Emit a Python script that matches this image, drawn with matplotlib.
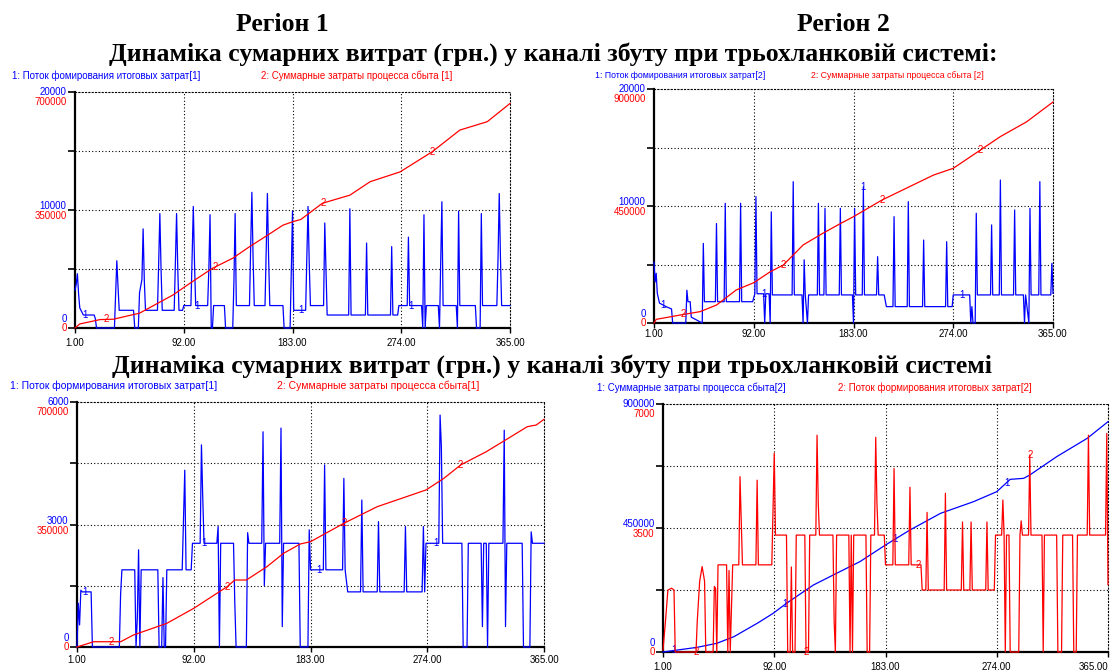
import numpy as np
import matplotlib

matplotlib.use("Agg")
import matplotlib.pyplot as plt

W, H = 1112, 671
BLUE = "#0000ff"
RED = "#ff0000"
INK = "black"
SERIF = "Liberation Serif"
SANS = "Liberation Sans"
DOTS = (0, (1, 2))

DAY_TICKS = [1, 92, 183, 274, 365]
DAY_LABELS = ["1.00", "92.00", "183.00", "274.00", "365.00"]

# ---- region 1, upper chart: flow (blue, 0..20000) and cumulative cost (red, 0..700000)
r1_flow = [(1, 3200), (2, 3700), (3, 4600), (4, 2900), (5, 1700), (8, 1100), (17, 1100),
           (18, 800), (19, 0), (34, 0), (35, 2900), (36, 5700), (37, 3500), (38, 1500),
           (50, 1500), (51, 0), (54, 0), (55, 3000), (57, 4100), (58, 8400), (59, 4000),
           (60, 1500), (70, 1500), (71, 5400), (72, 9700), (73, 5000), (74, 1500),
           (84, 1500), (85, 5500), (86, 9700), (87, 5000), (88, 1500), (91, 1500),
           (92, 1900), (98, 1900), (99, 6000), (100, 10300), (101, 5500), (102, 1900),
           (112, 1900), (113, 5000), (114, 9600), (115, 0), (116, 0), (117, 1900),
           (126, 1900), (127, 0), (133, 0), (134, 4000), (135, 9700), (136, 1900),
           (147, 1900), (148, 6900), (149, 11500), (150, 6000), (151, 1900), (160, 1900),
           (161, 6600), (162, 11400), (163, 6000), (164, 1900), (175, 1900), (176, 0),
           (181, 0), (182, 4900), (183, 9900), (184, 1500), (194, 1500), (195, 6000),
           (196, 10300), (197, 5500), (198, 1900), (209, 1900), (210, 8900), (211, 5000),
           (212, 1100), (230, 1100), (231, 10100), (232, 1100), (244, 1100), (245, 7200),
           (246, 1100), (265, 1100), (266, 6900), (267, 1100), (271, 1100), (272, 1900),
           (279, 1900), (280, 7700), (281, 1900), (291, 1900), (292, 0), (293, 9600),
           (294, 0), (295, 1900), (305, 1900), (306, 0), (307, 5500), (308, 10700),
           (309, 1900), (320, 1900), (321, 0), (322, 9900), (323, 1900), (336, 1900),
           (337, 0), (340, 0), (341, 9700), (342, 1900), (354, 1900), (355, 6000),
           (356, 11400), (357, 6000), (358, 1900), (365, 1900)]
r1_cost = [(1, 0), (5, 12000), (22, 25000), (33, 26000), (55, 44000), (83, 98000),
           (99, 137000), (116, 177000), (133, 207000), (147, 241000), (162, 275000),
           (175, 305000), (183, 315000), (190, 322000), (208, 370000), (231, 394000),
           (248, 434000), (273, 463000), (300, 523000), (323, 587000), (346, 612000),
           (365, 666000)]

# ---- region 2, upper chart: flow (blue, 0..20000) and cumulative cost (red, 0..900000)
r2_flow = [(1, 5200), (2, 3500), (3, 4250), (4, 2540), (6, 1700), (12, 1400), (17, 1200),
           (18, 0), (30, 0), (31, 2800), (32, 1820), (34, 1820), (35, 500), (45, 0),
           (46, 6800), (47, 1820), (57, 1820), (58, 8500), (59, 1820), (65, 1820),
           (66, 10230), (67, 1820), (79, 1820), (80, 10230), (81, 1820), (91, 1820),
           (93, 2500), (94, 10800), (95, 2500), (101, 2500), (102, 0), (103, 2500),
           (106, 2500), (107, 0), (108, 9500), (109, 2400), (127, 2400), (128, 12080),
           (129, 2400), (136, 2400), (137, 0), (138, 5400), (139, 2400), (141, 0),
           (142, 2400), (150, 2400), (151, 10230), (152, 2400), (156, 2400), (157, 9800),
           (158, 2400), (170, 2400), (171, 9800), (172, 2400), (182, 2400), (183, 0),
           (184, 9800), (185, 2400), (191, 2400), (192, 11650), (193, 2400), (204, 2400),
           (205, 5670), (206, 2400), (211, 2400), (213, 1400), (219, 1400), (220, 9090),
           (221, 1400), (232, 1400), (233, 10370), (234, 1400), (246, 1400), (247, 7090),
           (248, 1400), (267, 1400), (268, 6950), (269, 1400), (273, 1400), (274, 2400),
           (289, 2400), (290, 0), (291, 1400), (292, 0), (294, 0), (295, 9380), (296, 2400),
           (308, 2400), (309, 8380), (310, 2400), (316, 2400), (317, 12220), (318, 2400),
           (329, 2400), (330, 9660), (331, 2400), (338, 2400), (339, 0), (340, 2400),
           (343, 0), (344, 9800), (345, 2400), (352, 2400), (353, 12080), (354, 2400),
           (363, 2400), (364, 5100), (365, 2540)]
r2_cost = [(1, 0), (3, 14000), (25, 30800), (43, 43600), (58, 69000), (76, 127000),
           (92, 155000), (107, 197000), (119, 223000), (137, 300000), (155, 345000),
           (170, 380000), (183, 409000), (209, 473000), (231, 518000), (256, 569000),
           (274, 595000), (298, 663000), (317, 717000), (341, 774000), (365, 850000)]

# ---- region 1, lower chart: flow (blue, 0..6000) and cumulative cost (red, 0..700000)
r1b_flow = [(1, 0), (2, 1070), (3, 540), (4, 1390), (5, 1350), (12, 1350), (13, 0),
            (34, 0), (35, 1300), (36, 1890), (46, 1890), (47, 0), (48, 700), (49, 2380),
            (50, 0), (51, 1890), (64, 1890), (65, 0), (67, 0), (68, 1700), (69, 0),
            (70, 0), (71, 1890), (83, 1890), (84, 3110), (85, 4330), (86, 1890),
            (90, 1890), (91, 2540), (97, 2540), (98, 4950), (99, 3680), (100, 2540),
            (110, 2540), (111, 2950), (112, 0), (113, 2540), (123, 2540), (124, 1070),
            (125, 0), (133, 0), (134, 2800), (135, 2540), (145, 2540), (146, 5270),
            (147, 1500), (148, 2540), (159, 2540), (160, 5360), (161, 500), (162, 2540),
            (174, 2540), (175, 0), (181, 0), (182, 2870), (183, 1890), (193, 1890),
            (194, 4460), (195, 1890), (208, 1890), (209, 4130), (210, 1890), (212, 1350),
            (222, 1350), (223, 3600), (224, 1350), (235, 1350), (236, 3070), (237, 1350),
            (256, 1350), (257, 2950), (258, 1350), (270, 1350), (271, 2950), (272, 1350),
            (273, 2540), (283, 2540), (284, 5680), (285, 4900), (286, 2540), (301, 2540),
            (302, 0), (305, 0), (306, 2540), (316, 2540), (317, 500), (318, 2540),
            (320, 2540), (321, 0), (322, 2540), (333, 2540), (334, 5310), (335, 500),
            (336, 2540), (348, 2540), (349, 0), (354, 0), (355, 2820), (356, 2540),
            (365, 2540)]
r1b_cost = [(1, 0), (14, 15100), (35, 15100), (45, 34300), (71, 67600), (92, 110500),
            (118, 172300), (124, 191400), (133, 191400), (149, 229400), (162, 267700),
            (175, 294300), (183, 300900), (209, 353400), (235, 400900), (273, 448600),
            (287, 482000), (300, 520000), (320, 558000), (335, 591400), (352, 629500),
            (359, 634300), (365, 650600)]

# ---- region 2, lower chart: cumulative cost (blue, 0..900000) and flow (red, 0..7000)
r2b_cost = [(1, 0), (29, 17000), (45, 31500), (59, 55600), (78, 104000), (91, 140000),
            (102, 176700), (124, 243000), (143, 285600), (162, 327700), (183, 388300),
            (203, 442700), (228, 503200), (255, 545500), (274, 581800), (285, 626600),
            (296, 630200), (301, 642300), (323, 708800), (348, 775400), (365, 835800)]
r2b_flow = [(1, 56), (3, 855), (5, 1750), (8, 1800), (10, 1750), (11, 0), (28, 0),
            (29, 855), (31, 2000), (33, 2410), (35, 2000), (36, 0), (42, 0), (43, 1850),
            (44, 1800), (45, 0), (46, 2460), (53, 2460), (54, 0), (55, 2300), (56, 0),
            (58, 2460), (63, 2460), (64, 4950), (65, 3700), (66, 2460), (77, 2460),
            (78, 4850), (79, 2460), (90, 2460), (91, 4010), (92, 5610), (93, 3300),
            (102, 3300), (103, 0), (105, 0), (106, 2400), (107, 0), (109, 0), (110, 3300),
            (117, 3300), (118, 0), (120, 0), (121, 3300), (126, 3300), (127, 6120),
            (128, 4200), (129, 3300), (140, 3300), (141, 855), (142, 0), (143, 3300),
            (153, 3300), (154, 0), (155, 3300), (156, 0), (157, 3300), (167, 3300),
            (168, 0), (170, 0), (171, 3300), (174, 3300), (175, 6060), (176, 4200),
            (177, 3300), (182, 3300), (183, 2460), (189, 2460), (190, 5180), (191, 2460),
            (202, 2460), (203, 4650), (204, 2460), (212, 2460), (213, 1750), (216, 1750),
            (217, 3940), (218, 1750), (231, 1750), (232, 4480), (233, 1750), (245, 1750),
            (246, 3670), (247, 1750), (252, 1750), (253, 3670), (254, 1750), (265, 1750),
            (266, 3670), (267, 1750), (272, 1750), (273, 3300), (278, 3300), (279, 4290),
            (280, 3300), (281, 0), (282, 3300), (284, 3300), (285, 0), (292, 0),
            (293, 3300), (294, 3700), (295, 3300), (300, 3300), (301, 5560), (302, 3300),
            (311, 3300), (312, 0), (313, 3300), (323, 3300), (324, 0), (327, 0),
            (328, 3300), (336, 3300), (337, 0), (339, 0), (340, 3300), (348, 3300),
            (349, 6120), (350, 3300), (363, 3300), (364, 6170), (365, 1900)]


def fig_text(fig, x, y, s, **kw):
    # x, y in picture pixels from the top-left corner
    fig.text(x / W, 1 - y / H, s, **kw)


def draw_panel(fig, box, blue, red, blue_max, red_max, tags, labels, label_x, label_y,
               label_size, xpad, font=7, last_right=False):
    left, top, right, bottom = box
    ax = fig.add_axes([left / W, 1 - bottom / H, (right - left) / W, (bottom - top) / H])
    ax2 = ax.twinx()

    ax.set_xlim(1, 365)
    ax.set_ylim(0, blue_max)
    ax2.set_ylim(0, red_max)

    # dotted grid inside, dotted top/right frame, heavy left/bottom axes
    for d in DAY_TICKS[1:-1]:
        ax.axvline(d, color=INK, lw=0.8, ls=DOTS, zorder=1)
    for q in (0.25, 0.5, 0.75):
        ax.axhline(q * blue_max, color=INK, lw=0.8, ls=DOTS, zorder=1)
    for sp in ("top", "right"):
        ax.spines[sp].set_linestyle(DOTS)
        ax.spines[sp].set_linewidth(0.8)
    for sp in ("left", "bottom"):
        ax.spines[sp].set_linewidth(1.6)
    for sp in ax2.spines.values():
        sp.set_visible(False)

    ax.set_xticks(DAY_TICKS, DAY_LABELS)
    ax.set_yticks([q * blue_max for q in (0, 0.25, 0.5, 0.75, 1)], [])
    ax.tick_params(axis="x", length=3.5, width=1, pad=xpad, labelsize=font, colors=INK)
    ax.tick_params(axis="y", length=5, width=1.2)
    for lab in ax.get_xticklabels():
        lab.set_fontfamily(SANS)
    if last_right:
        ax.get_xticklabels()[-1].set_horizontalalignment("right")
    ax2.set_yticks([])

    bd, bv = zip(*blue)
    rd, rv = zip(*red)
    ax.plot(bd, bv, color=BLUE, lw=0.9, clip_on=False, zorder=3)
    ax2.plot(rd, rv, color=RED, lw=0.9, clip_on=False, zorder=3)

    # numbered tags sitting on each curve
    blue_tag_days, red_tag_days = tags
    for d in blue_tag_days:
        ax.text(d, np.interp(d, bd, bv), "1", color=BLUE, fontsize=font,
                family=SANS, ha="center", va="center", zorder=4)
    for d in red_tag_days:
        ax2.text(d, np.interp(d, rd, rv), "2", color=RED, fontsize=font,
                 family=SANS, ha="center", va="center", zorder=4)

    # stacked scale values: blue above, red below
    for frac, (b_off, r_off) in zip((1, 0.5, 0), ((0, -10), (4, -6), (9, 0))):
        for val, off, col in ((blue_max * frac, b_off, BLUE), (red_max * frac, r_off, RED)):
            ax.annotate(f"{val:.0f}", xy=(0, frac), xycoords="axes fraction",
                        xytext=(-6, off * 0.72), textcoords="offset points",
                        ha="right", va="center", color=col, fontsize=font, family=SANS)

    for text, x, col in zip(labels, label_x, (BLUE, RED)):
        fig_text(fig, x, label_y, text, color=col, fontsize=label_size, family=SANS,
                 va="center")
    return ax


fig = plt.figure(figsize=(W / 100, H / 100), dpi=100)
fig.patch.set_facecolor("white")

title_kw = dict(family=SERIF, weight="bold", fontsize=18.5, ha="center", va="baseline")
fig_text(fig, 282, 31, "Регіон 1", **title_kw)
fig_text(fig, 843, 31, "Регіон 2", **title_kw)
fig_text(fig, 553, 61, "Динаміка сумарних витрат (грн.) у каналі збуту при трьохланковій системі:", **title_kw)
fig_text(fig, 552, 373, "Динаміка сумарних витрат (грн.) у каналі збуту при трьохланковій системі", **title_kw)

draw_panel(fig, (75, 92, 510, 328), r1_flow, r1_cost, 20000, 700000,
           ([9, 103, 190, 282], [27, 118, 209, 300]),
           ("1: Поток фомирования итоговых затрат[1]", "2: Суммарные затраты процесса сбыта [1]"),
           (12, 261), 76, 7, xpad=4)
draw_panel(fig, (654, 89, 1053, 323), r2_flow, r2_cost, 20000, 900000,
           ([9, 101, 192, 282], [28, 119, 209, 299]),
           ("1: Поток фомирования итоговых затрат[2]", "2: Суммарные затраты процесса сбыта [2]"),
           (595, 811), 76, 6.3, xpad=1)
draw_panel(fig, (77, 402, 544, 647), r1b_flow, r1b_cost, 6000, 700000,
           ([7, 100, 190, 281], [28, 118, 209, 300]),
           ("1: Поток формирования итоговых затрат[1]", "2: Суммарные затраты процесса сбыта[1]"),
           (10, 277), 386, 7.5, xpad=2.5)
draw_panel(fig, (663, 404, 1108, 652), r2b_cost, r2b_flow, 900000, 7000,
           ([10, 101, 191, 282], [28, 118, 210, 301]),
           ("1: Суммарные затраты процесса сбыта[2]", "2: Поток формирования итоговых затрат[2]"),
           (597, 838), 388, 7, xpad=4, last_right=True)

fig.savefig("out.png", dpi=100)
